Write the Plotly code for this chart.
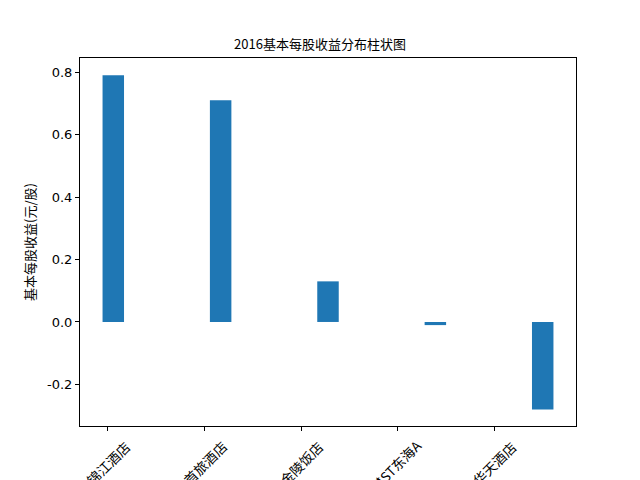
import plotly.graph_objects as go

categories = ["锦江酒店", "首旅酒店", "金陵饭店", "*ST东海A", "华天酒店"]
eps = [0.79, 0.71, 0.13, -0.01, -0.28]
bar_pos = [0, 1, 2, 3, 4]
tick_pos = [-0.05, 0.85, 1.75, 2.65, 3.55]
y_ticks = [-0.2, 0.0, 0.2, 0.4, 0.6, 0.8]
y_tick_text = ["-0.2", "0.0", "0.2", "0.4", "0.6", "0.8"]

cjk = "Noto Sans CJK SC"

fig = go.Figure()
fig.add_trace(go.Bar(x=bar_pos, y=eps, width=0.2, marker=dict(color="#1f77b4", line=dict(width=0))))

for tp, lab in zip(tick_pos, categories):
    fig.add_annotation(x=tp, xref="x", y=0, yref="paper", yshift=-37,
                       text=lab, textangle=-45, showarrow=False,
                       xanchor="center", yanchor="middle",
                       font=dict(family=cjk, size=13.5, color="black"))

fig.update_layout(
    width=640, height=480,
    margin=dict(l=80, r=64, t=58, b=54),
    plot_bgcolor="white", paper_bgcolor="white",
    showlegend=False,
    title=dict(text="2016基本每股收益分布柱状图", x=0.5, xanchor="center",
               y=1 - 44 / 480, yanchor="middle",
               font=dict(family=cjk, size=13, color="black")),
    xaxis=dict(range=[-0.31, 4.31], tickvals=tick_pos, ticktext=["" for _ in categories],
               showgrid=False, zeroline=False, showline=True, linecolor="black", linewidth=1,
               mirror=True, ticks="outside", ticklen=4, tickcolor="black"),
    yaxis=dict(range=[-0.333, 0.845], tickvals=y_ticks, ticktext=y_tick_text,
               showgrid=False, zeroline=False, showline=True, linecolor="black", linewidth=1,
               mirror=True, ticks="outside", ticklen=4, tickcolor="black",
               tickfont=dict(family="DejaVu Sans", size=13, color="black"),
               title=dict(text="基本每股收益(元/股)", standoff=8,
                          font=dict(family=cjk, size=13, color="black"))),
)

fig.write_html("out.html", config={"displayModeBar": False},
               post_script="document.body.style.margin='0';document.body.style.padding='0';")
